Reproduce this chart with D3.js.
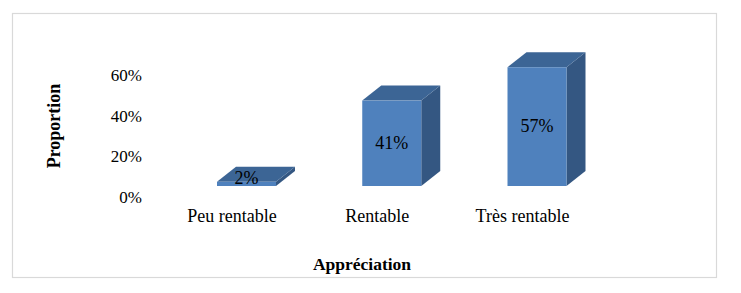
<!DOCTYPE html>
<html>
<head>
<meta charset="utf-8">
<script src="https://cdn.jsdelivr.net/npm/d3@7"></script>
<style>
  html, body { margin: 0; padding: 0; background: #ffffff; }
  svg { display: block; }
  svg text { font-family: 'Liberation Serif', 'Times New Roman', serif; }
</style>
</head>
<body>
<svg id="chart" width="741" height="293"></svg>
<script>
const categories = ["Peu rentable", "Rentable", "Très rentable"];
const values = [2, 41, 57];
const valueLabels = ["2%", "41%", "57%"];
const tickValues = [0, 20, 40, 60];
const tickLabels = ["0%", "20%", "40%", "60%"];

const svg = d3.select("#chart");
const font = "'Liberation Serif', 'Times New Roman', serif";

// outer frame
svg.append("rect")
  .attr("x", 12.5).attr("y", 13.5)
  .attr("width", 704).attr("height", 264)
  .attr("fill", "#ffffff")
  .attr("stroke", "#d9d9d9").attr("stroke-width", 1.2);

// scales
const x = d3.scalePoint().domain(categories).range([246.5, 537]);
const barW = 59;
const y = d3.scaleLinear().domain([0, 60]).range([186, 61]);
const yAxisScale = d3.scaleLinear().domain([0, 60]).range([197, 75]);
const dx = 19, dy = -15;

// y axis labels (no line, no ticks)
const yAxis = d3.axisLeft(yAxisScale)
  .tickValues(tickValues)
  .tickFormat((d, i) => tickLabels[i])
  .tickSize(0).tickPadding(0);
const ya = svg.append("g").attr("transform", "translate(142,0)").call(yAxis)
  .attr("font-family", font).attr("font-size", 17);
ya.select(".domain").remove();
ya.selectAll("text")
  .style("font-family", font).style("font-size", "17px").attr("fill", "#000");

// x axis labels
const xAxis = d3.axisBottom(x).tickSize(0).tickPadding(0);
const xa = svg.append("g").attr("transform", "translate(-15,209)").call(xAxis)
  .attr("font-family", font).attr("font-size", 18);
xa.select(".domain").remove();
xa.selectAll("text")
  .style("font-family", font).style("font-size", "18px").attr("fill", "#000");

// 3D bars
const bars = svg.append("g").selectAll("g.bar")
  .data(categories.map((c, i) => ({ c, v: values[i], lab: valueLabels[i] })))
  .join("g").attr("class", "bar");

bars.each(function(d) {
  const g = d3.select(this);
  const x0 = x(d.c) - barW / 2, x1 = x(d.c) + barW / 2;
  const yt = y(d.v), yb = y(0);
  // side face
  g.append("path")
    .attr("d", `M${x1},${yt} L${x1 + dx},${yt + dy} L${x1 + dx},${yb + dy} L${x1},${yb} Z`)
    .attr("fill", "#345782");
  // top face
  g.append("path")
    .attr("d", `M${x0},${yt} L${x0 + dx},${yt + dy} L${x1 + dx},${yt + dy} L${x1},${yt} Z`)
    .attr("fill", "#3c6595");
  // front face
  g.append("rect")
    .attr("x", x0).attr("y", yt)
    .attr("width", barW).attr("height", yb - yt)
    .attr("fill", "#4f81bd");
  // label
  const h = yb - yt;
  const ly = h < 20 ? yt - 2 : (yt + yb) / 2 + 1.5;
  g.append("text")
    .attr("x", x(d.c)).attr("y", ly)
    .attr("text-anchor", "middle").attr("dominant-baseline", "middle")
    .style("font-family", font).style("font-size", "18px").attr("fill", "#000")
    .text(d.lab);
});

// axis titles
svg.append("text")
  .attr("transform", "translate(56,126) rotate(-90)")
  .attr("text-anchor", "middle").attr("dominant-baseline", "middle")
  .style("font-family", font).style("font-size", "18px").attr("font-weight", "bold")
  .text("Proportion");

svg.append("text")
  .attr("x", 362).attr("y", 266)
  .attr("text-anchor", "middle").attr("dominant-baseline", "middle")
  .style("font-family", font).style("font-size", "17.5px").attr("font-weight", "bold")
  .text("Appréciation");
</script>
</body>
</html>
